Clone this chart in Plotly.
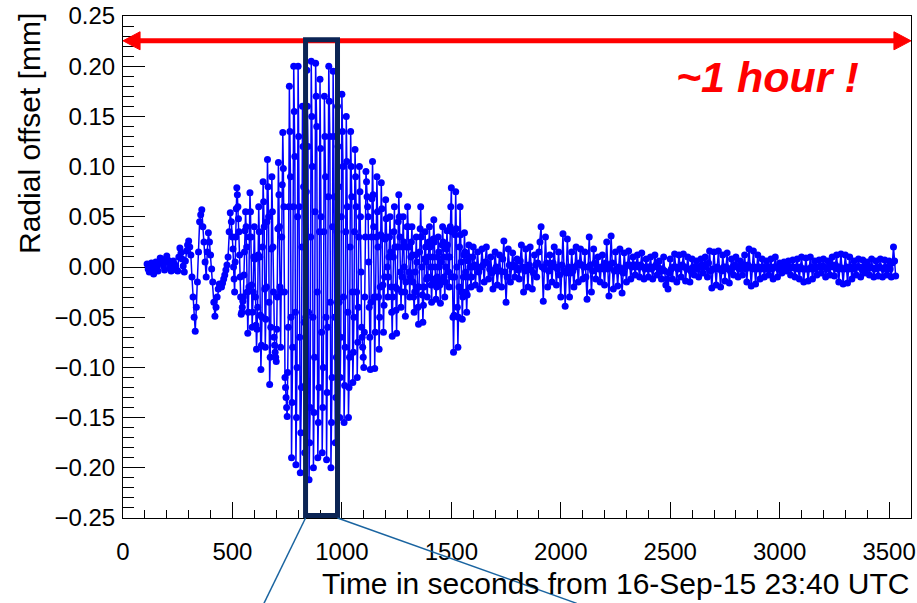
import plotly.graph_objects as go

# ---------------- data ----------------
t_start = 110          # first sample time [s]
t_step = 10            # sampling step [s]

# samples at t = 110, 120, ..., 3530
offset_mm = [
    0.003, -0.005, 0.004, -0.007, 0.005, -0.004, 0.009, 0.006, -0.003, 0.011,
    0.005, -0.004, 0.006, 0.001, -0.004, 0.019, 0.008, -0.005, 0.016, 0.026,
    0.012, -0.030, -0.064, -0.015, 0.045, 0.057, 0.025, -0.010, 0.034, 0.012,
    -0.015, -0.049, -0.030, -0.017, -0.020, -0.012, -0.003, 0.010, 0.054, 0.030,
    -0.025, 0.079, 0.035, -0.047, -0.030, 0.055, -0.066, 0.074, -0.060, 0.040,
    -0.082, 0.060, -0.102, 0.085, -0.080, 0.107, -0.117, 0.090, -0.070, -0.094,
    0.104, -0.080, 0.134, -0.110, -0.149, 0.180, -0.190, 0.200, -0.197, 0.200,
    -0.205, 0.160, -0.185, 0.196, -0.212, 0.205, -0.200, 0.203, -0.190, 0.187,
    -0.185, 0.170, -0.192, 0.200, -0.200, 0.195, -0.175, 0.160, -0.150, 0.172,
    -0.155, 0.150, -0.150, 0.135, -0.115, 0.117, -0.110, 0.100, -0.060, -0.100,
    0.095, 0.050, -0.102, 0.105, -0.101, 0.090, -0.082, 0.084, -0.065, 0.067,
    -0.030, 0.050, -0.069, 0.060, -0.066, 0.072, -0.040, 0.050, -0.049, 0.060,
    -0.030, 0.040, -0.045, 0.030, -0.057, 0.060, -0.055, 0.035, -0.030, 0.040,
    -0.035, 0.047, -0.032, 0.030, -0.036, 0.040, -0.030, 0.036, -0.020, 0.079,
    -0.085, 0.075, -0.080, 0.060, -0.052, 0.034, -0.045, 0.022, -0.020, 0.020,
    -0.018, 0.015, -0.022, 0.018, -0.015, 0.020, -0.012, 0.010, -0.022, 0.015,
    -0.018, 0.012, -0.020, 0.026, -0.035, 0.018, -0.015, 0.014, -0.010, 0.008,
    -0.012, 0.022, -0.025, 0.018, -0.020, 0.020, -0.022, 0.012, -0.010, 0.015,
    0.040, -0.034, 0.030, -0.020, 0.012, -0.015, 0.020, -0.018, 0.015, -0.030,
    0.033, -0.039, 0.028, -0.030, 0.015, -0.020, 0.020, -0.015, 0.018, -0.012,
    0.015, -0.032, 0.030, -0.025, 0.018, -0.012, 0.010, -0.015, 0.012, -0.018,
    0.025, -0.029, 0.031, -0.022, 0.015, -0.019, 0.018, -0.026, 0.014, -0.015,
    0.016, -0.012, 0.010, -0.008, 0.012, -0.010, 0.014, -0.012, 0.008, -0.010,
    0.010, -0.012, 0.012, -0.008, 0.006, -0.012, 0.010, -0.018, -0.022, 0.008,
    -0.012, 0.013, -0.015, 0.012, -0.010, 0.013, -0.014, 0.010, -0.015, 0.008,
    -0.008, 0.006, -0.010, 0.008, -0.006, 0.010, -0.010, 0.016, -0.021, 0.015,
    -0.018, 0.016, -0.020, 0.012, -0.014, 0.014, -0.016, 0.008, -0.008, 0.010,
    -0.010, 0.006, -0.008, 0.012, -0.015, 0.018, -0.019, 0.016, -0.017, 0.012,
    -0.012, 0.008, -0.010, 0.006, -0.008, 0.008, -0.012, 0.010, -0.010, 0.004,
    -0.006, 0.005, -0.004, 0.006, -0.008, 0.007, -0.010, 0.008, -0.012, 0.010,
    -0.015, 0.009, -0.014, 0.010, -0.012, 0.006, -0.008, 0.007, -0.006, 0.008,
    -0.010, 0.006, -0.008, 0.010, -0.009, 0.012, -0.015, 0.013, -0.017, 0.012,
    -0.016, 0.010, -0.012, 0.006, -0.008, 0.008, -0.010, 0.007, -0.006, 0.005,
    -0.008, 0.008, -0.010, 0.006, -0.009, 0.008, -0.010, 0.007, -0.008, 0.006,
    -0.010, 0.020, -0.009,
]

# samples in between, at t = 115, 125, ..., 3525
offset_mid_mm = [
    -0.002, 0.000, -0.003, 0.001, 0.000, 0.004, 0.008, 0.001, 0.005, 0.007,
    0.000, 0.002, 0.003, -0.003, 0.010, 0.014, 0.001, 0.006, 0.022, 0.020,
    -0.010, -0.050, -0.040, 0.015, 0.052, 0.040, 0.005, 0.015, 0.025, -0.002,
    -0.035, -0.040, -0.022, -0.019, -0.016, -0.008, 0.002, 0.035, 0.045, 0.000,
    0.030, 0.060, -0.010, -0.040, 0.015, 0.020, -0.020, 0.030, -0.025, -0.030,
    -0.040, 0.010, -0.050, 0.040, -0.020, 0.050, -0.060, 0.020, -0.085, -0.030,
    0.040, 0.030, 0.060, -0.130, -0.060, 0.090, -0.080, 0.110, -0.100, 0.060,
    -0.120, 0.080, -0.050, 0.120, -0.140, 0.100, -0.090, 0.140, -0.120, 0.050,
    -0.100, 0.090, -0.060, 0.130, -0.110, 0.070, -0.090, 0.080, -0.070, 0.100,
    -0.080, 0.060, -0.090, 0.070, -0.050, 0.060, -0.040, 0.050, -0.080, -0.030,
    0.070, -0.040, 0.030, 0.040, -0.030, 0.020, -0.020, 0.030, -0.010, 0.030,
    0.010, -0.020, 0.010, -0.020, 0.020, 0.030, -0.010, 0.000, 0.020, 0.020,
    0.010, -0.015, -0.005, -0.020, 0.015, 0.000, -0.020, 0.005, 0.010, 0.000,
    0.010, 0.000, -0.010, 0.000, 0.005, 0.010, 0.000, 0.010, 0.040, -0.010,
    -0.010, 0.000, -0.020, 0.005, -0.010, -0.005, -0.010, 0.000, 0.000, 0.002,
    0.000, -0.005, 0.000, 0.002, 0.005, 0.004, -0.002, -0.006, -0.004, 0.000,
    -0.004, -0.004, 0.008, -0.005, -0.010, 0.002, 0.000, 0.002, 0.000, -0.003,
    0.006, 0.000, -0.004, 0.000, 0.002, -0.003, -0.006, 0.002, 0.004, 0.025,
    0.000, -0.002, 0.004, -0.004, 0.000, 0.004, 0.000, -0.002, -0.008, 0.002,
    -0.004, -0.006, 0.000, -0.006, -0.004, 0.000, 0.002, 0.004, 0.002, 0.000,
    -0.010, 0.000, 0.002, -0.004, 0.004, 0.000, -0.002, 0.000, -0.002, 0.004,
    -0.002, 0.000, 0.004, -0.004, -0.002, 0.000, -0.004, -0.006, 0.000, 0.002,
    0.002, 0.000, 0.002, 0.002, 0.000, 0.002, 0.000, -0.002, 0.000, 0.000,
    -0.002, 0.000, 0.002, 0.000, -0.004, -0.002, -0.004, -0.012, -0.006, -0.002,
    0.000, 0.000, -0.002, 0.000, 0.002, 0.000, -0.002, -0.002, -0.004, 0.000,
    0.000, -0.002, 0.000, 0.002, 0.002, 0.000, 0.004, -0.004, -0.002, -0.002,
    0.000, -0.002, -0.004, 0.000, 0.000, -0.002, -0.004, 0.000, 0.002, 0.000,
    -0.002, 0.000, 0.002, -0.002, 0.002, 0.000, -0.002, 0.000, -0.002, 0.000,
    -0.002, 0.000, -0.002, 0.000, 0.000, -0.002, 0.000, 0.000, -0.002, -0.001,
    0.000, 0.000, 0.001, -0.001, 0.000, -0.001, 0.000, -0.002, 0.000, -0.002,
    -0.002, -0.002, -0.002, 0.000, -0.002, 0.000, 0.000, 0.000, 0.001, 0.000,
    -0.002, 0.000, 0.002, 0.000, 0.002, -0.002, 0.000, -0.002, -0.002, 0.000,
    -0.002, 0.000, -0.002, 0.000, 0.000, 0.000, -0.002, 0.000, 0.000, -0.001,
    0.000, -0.001, -0.002, -0.001, 0.000, -0.001, -0.002, 0.000, -0.001, -0.002,
    0.004, 0.006,
]

# extra samples in the strong part, at t = 502.5, 507.5, ..., 1597.5
extra_start = 502.5
extra_step = 5
offset_extra_mm = [
    0.018, -0.012, 0.005, 0.058, 0.072, 0.048, 0.012, -0.030, -0.045, -0.034,
    -0.008, 0.036, 0.040, -0.025, -0.045, 0.030, 0.055, -0.018, -0.045, 0.010,
    0.008, -0.058, -0.062, 0.012, 0.035, -0.048, -0.078, 0.020, 0.065, -0.022,
    -0.052, 0.045, 0.080, -0.035, -0.090, 0.018, 0.055, -0.025, -0.078, -0.090,
    -0.062, 0.038, 0.072, -0.020, -0.025, 0.082, 0.098, -0.025, -0.120, -0.140,
    -0.105, 0.060, 0.135, -0.050, -0.135, 0.060, 0.155, -0.045, -0.150, 0.050,
    0.130, -0.070, -0.165, 0.020, 0.120, -0.055, -0.118, 0.075, 0.160, -0.045,
    -0.175, 0.030, 0.150, -0.050, -0.145, 0.055, 0.170, -0.025, -0.155, 0.035,
    0.118, -0.065, -0.140, 0.035, 0.130, -0.050, -0.125, 0.070, 0.165, -0.035,
    -0.155, 0.040, 0.130, -0.050, -0.130, 0.035, 0.120, -0.035, -0.110, 0.050,
    0.135, -0.030, -0.118, 0.035, 0.105, -0.045, -0.120, 0.020, 0.100, -0.025,
    -0.085, 0.035, 0.090, -0.025, -0.075, 0.030, 0.075, -0.005, -0.070, -0.090,
    -0.065, 0.030, 0.085, 0.060, 0.005, -0.070, -0.035, 0.068, 0.072, -0.030,
    -0.065, 0.030, 0.055, -0.030, -0.050, 0.032, 0.058, -0.018, -0.038, 0.028,
    0.048, 0.000, -0.010, 0.030, 0.015, -0.045, -0.030, 0.035, 0.020, -0.043,
    -0.022, 0.045, 0.050, -0.005, -0.025, 0.020, 0.025, -0.025, -0.015, 0.040,
    0.040, -0.005, -0.010, 0.025, 0.012, -0.030, -0.025, 0.012, 0.005, -0.040,
    -0.020, 0.038, 0.030, -0.028, -0.038, 0.008, 0.020, -0.012, -0.010, 0.025,
    0.020, -0.018, -0.012, 0.028, 0.025, -0.015, -0.020, 0.010, 0.015, -0.018,
    -0.015, 0.022, 0.025, -0.010, -0.015, 0.018, 0.022, -0.005, 0.010, 0.060,
    0.035, -0.050, -0.048, 0.032, 0.038, -0.040, -0.050, 0.020, 0.032, -0.025,
    -0.030, 0.012, 0.015, -0.025, -0.028, 0.006, 0.010, -0.010, -0.010, 0.010,
]

samples = [(t_start + i * t_step, v) for i, v in enumerate(offset_mm)]
samples += [(t_start + t_step / 2 + i * t_step, v) for i, v in enumerate(offset_mid_mm)]
samples += [(extra_start + i * extra_step, v) for i, v in enumerate(offset_extra_mm)]
samples.sort()
time_s = [s[0] for s in samples]
radial_mm = [s[1] for s in samples]

x_ticks = [0, 500, 1000, 1500, 2000, 2500, 3000, 3500]
y_ticks = [-0.25, -0.20, -0.15, -0.10, -0.05, 0.00, 0.05, 0.10, 0.15, 0.20, 0.25]
y_tick_text = ["\u22120.25", "\u22120.20", "\u22120.15", "\u22120.10", "\u22120.05",
               "0.00", "0.05", "0.10", "0.15", "0.20", "0.25"]

x_title = "Time in seconds from 16-Sep-15 23:40 UTC"
y_title = "Radial offset [mm]"
note_text = "~1 hour !"

# highlighted window and one-hour span
win_t0, win_t1 = 834, 980
win_y0, win_y1 = -0.2476, 0.2263
span_t0, span_t1, span_y = 0, 3600, 0.2253

FONT = "Liberation Sans, Arial, Helvetica, sans-serif"

fig = go.Figure()
fig.add_trace(go.Scatter(
    x=time_s, y=radial_mm, mode="lines+markers",
    line=dict(color="#0000ff", width=1.5),
    marker=dict(color="#0000ff", size=7, symbol="circle"),
    showlegend=False, hoverinfo="skip",
))

head_len = 78      # seconds
head_half = 0.009  # mm
shapes = [
    dict(type="line", xref="x", yref="y", x0=span_t0 + head_len * 0.8, x1=span_t1 - head_len * 0.8,
         y0=span_y, y1=span_y, line=dict(color="#ff0000", width=5), layer="above"),
    dict(type="path", xref="x", yref="y",
         path=f"M {span_t0},{span_y} L {span_t0 + head_len},{span_y + head_half} L {span_t0 + head_len},{span_y - head_half} Z",
         fillcolor="#ff0000", line=dict(color="#ff0000", width=1), layer="above"),
    dict(type="path", xref="x", yref="y",
         path=f"M {span_t1},{span_y} L {span_t1 - head_len},{span_y + head_half} L {span_t1 - head_len},{span_y - head_half} Z",
         fillcolor="#ff0000", line=dict(color="#ff0000", width=1), layer="above"),
    dict(type="rect", xref="x", yref="y", x0=win_t0, x1=win_t1, y0=win_y0, y1=win_y1,
         line=dict(color="#0b2454", width=5), fillcolor="rgba(0,0,0,0)", layer="above"),
    dict(type="line", xref="paper", yref="paper", x0=win_t0 / 3600, y0=0.0,
         x1=644 / 3600, y1=-0.17, line=dict(color="#1a64a0", width=1.5), layer="above"),
    dict(type="line", xref="paper", yref="paper", x0=win_t1 / 3600, y0=0.0,
         x1=2073 / 3600, y1=-0.17, line=dict(color="#1a64a0", width=1.5), layer="above"),
]

annotations = [
    dict(text=f"<b><i>{note_text}</i></b>", xref="x", yref="y", x=2943, y=0.189,
         xanchor="center", yanchor="middle", showarrow=False,
         font=dict(family=FONT, size=43, color="#ff0000")),
    dict(text=x_title, xref="paper", yref="paper", x=1.0, y=-0.131,
         xanchor="right", yanchor="middle", showarrow=False,
         font=dict(family=FONT, size=30, color="#000000")),
    dict(text=y_title, xref="paper", yref="paper", x=-0.118, y=0.765,
         xanchor="center", yanchor="middle", showarrow=False, textangle=-90,
         font=dict(family=FONT, size=30, color="#000000")),
]

fig.update_layout(
    template="none",
    width=917, height=603, autosize=False,
    margin=dict(l=123, r=6, t=16, b=85, pad=0),
    paper_bgcolor="white", plot_bgcolor="white",
    font=dict(family=FONT, size=24, color="#000000"),
    shapes=shapes, annotations=annotations,
    xaxis=dict(range=[0, 3600], tickvals=x_ticks, ticks="inside", ticklen=16,
               tickwidth=1, tickcolor="black", showgrid=False, zeroline=False,
               showline=True, linecolor="black", linewidth=1, mirror=True,
               automargin=False, ticklabelstandoff=12, tickfont=dict(size=24),
               minor=dict(dtick=100, ticks="inside", ticklen=8, tickcolor="black",
                          tickwidth=1, showgrid=False)),
    yaxis=dict(range=[-0.25, 0.25], tickvals=y_ticks, ticktext=y_tick_text,
               ticks="inside", ticklen=22, tickwidth=1, tickcolor="black",
               showgrid=False, zeroline=False, showline=True, linecolor="black",
               linewidth=1, mirror=True, automargin=False, ticklabelstandoff=2,
               tickfont=dict(size=24),
               minor=dict(dtick=0.01, ticks="inside", ticklen=11, tickcolor="black",
                          tickwidth=1, showgrid=False)),
)

fig.write_html(
    "out.html",
    config={"displayModeBar": False},
    post_script="document.body.style.margin='0';document.body.style.padding='0';"
                "document.body.style.overflow='hidden';",
)
